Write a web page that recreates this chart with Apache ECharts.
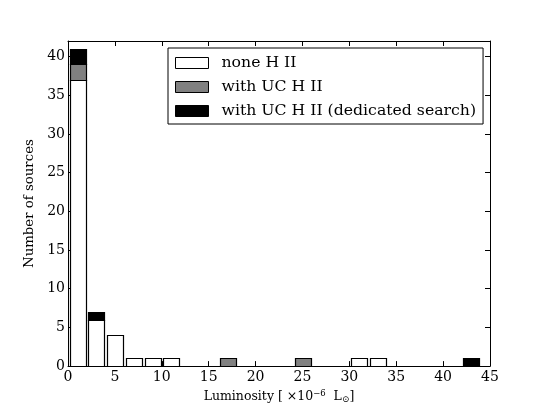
<!DOCTYPE html>
<html>
<head>
<meta charset="utf-8">
<script src="https://cdn.jsdelivr.net/npm/echarts@6/dist/echarts.min.js"></script>
<style>
  html, body { margin: 0; padding: 0; background: #fff; }
  #chart { width: 545px; height: 409px; }
</style>
</head>
<body>
<div id="chart"></div>
<script>
// histogram bins (centre of each 2-unit bin, luminosity x10^-6 Lsun)
var binCenters = [1, 3, 5, 7, 9, 11, 13, 15, 17, 19, 21, 23, 25, 27, 29, 31, 33, 35, 37, 39, 41, 43];
var noneHII    = [37, 6, 4, 1, 1, 1, 0, 0, 0, 0, 0, 0, 0, 0, 0, 1, 1, 0, 0, 0, 0, 0];
var withUC     = [2, 0, 0, 0, 0, 0, 0, 0, 1, 0, 0, 0, 1, 0, 0, 0, 0, 0, 0, 0, 0, 0];
var withUCded  = [2, 1, 0, 0, 0, 0, 0, 0, 0, 0, 0, 0, 0, 0, 0, 0, 0, 0, 0, 0, 0, 1];
var seriesNames = ['none H II', 'with UC H II', 'with UC H II (dedicated search)'];
var seriesColors = ['#ffffff', '#808080', '#000000'];

var font = 'DejaVu Serif';
var barFrac = 1.67; // drawn width of a bar, in x units (bins are 2 wide)

// stacked histogram: each row is [centre, bottom, top]
var stackRows = function (vals, below) {
  return binCenters.map(function (x, i) {
    return [x, below[i], below[i] + vals[i]];
  });
};
var base1 = noneHII.map(function (v) { return v; });
var base2 = noneHII.map(function (v, i) { return v + withUC[i]; });
var zeros = noneHII.map(function () { return 0; });

var makeSeries = function (name, rows, color) {
  return {
    name: name,
    type: 'custom',
    data: rows,
    encode: { x: 0, y: [1, 2] },
    itemStyle: { color: color, borderColor: '#000', borderWidth: 1 },
    renderItem: function (params, api) {
      var x = api.value(0), lo = api.value(1), hi = api.value(2);
      if (hi <= lo) return;
      var p0 = api.coord([x, lo]);
      var p1 = api.coord([x, hi]);
      var w = api.size([barFrac, 0])[0];
      return {
        type: 'rect',
        shape: { x: Math.round(p0[0] - w / 2) + 0.5, y: Math.round(p1[1]) + 0.5, width: Math.round(w), height: Math.round(p0[1]) - Math.round(p1[1]) },
        style: { fill: color, stroke: '#000', lineWidth: 1.2 }
      };
    },
    animation: false
  };
};

var tickStyle = { show: true, inside: true, length: 5, lineStyle: { color: '#000' } };
var lineStyle = { show: true, onZero: false, lineStyle: { color: '#000', width: 1 } };

var chart = echarts.init(document.getElementById('chart'));
chart.setOption({
  animation: false,
  backgroundColor: '#fff',
  textStyle: { fontFamily: font },
  grid: { left: 68, right: 55, top: 41, bottom: 41, containLabel: false },
  legend: {
    orient: 'vertical',
    left: 168,
    top: 48,
    padding: [7, 7, 5, 7],
    itemGap: 8,
    itemWidth: 33,
    itemHeight: 11,
    icon: 'rect',
    borderColor: '#000',
    borderWidth: 1,
    backgroundColor: '#fff',
    data: seriesNames.map(function (n, i) {
      return { name: n, itemStyle: { color: seriesColors[i], borderColor: '#000', borderWidth: 1 } };
    }),
    textStyle: { fontFamily: font, fontSize: 15.7, lineHeight: 16, color: '#000', padding: [0, 0, 0, 8] }
  },
  xAxis: [{
    type: 'value',
    min: 0, max: 45, interval: 5,
    name: 'Luminosity [ ×10{sup|−6}  L{sub|⊙}]',
    nameLocation: 'middle',
    nameGap: 14,
    nameTextStyle: {
      fontFamily: font, fontSize: 12.5, color: '#000', verticalAlign: 'top',
      rich: {
        sup: { fontFamily: font, fontSize: 8.5, verticalAlign: 'top', padding: [0, 0, 6, 0] },
        sub: { fontFamily: font, fontSize: 9, verticalAlign: 'bottom', padding: [5, 0, 0, 0] }
      }
    },
    axisLine: lineStyle,
    axisTick: tickStyle,
    splitLine: { show: false },
    axisLabel: { fontFamily: font, fontSize: 14, color: '#000', margin: 4 }
  }, {
    type: 'value', position: 'top',
    min: 0, max: 45, interval: 5,
    axisLine: lineStyle, axisTick: tickStyle,
    splitLine: { show: false }, axisLabel: { show: false }
  }],
  yAxis: [{
    type: 'value',
    min: 0, max: 42, interval: 5,
    name: 'Number of sources',
    nameLocation: 'middle',
    nameGap: 25,
    nameTextStyle: { fontFamily: font, fontSize: 13.3, color: '#000' },
    axisLine: lineStyle,
    axisTick: tickStyle,
    splitLine: { show: false },
    axisLabel: {
      fontFamily: font, fontSize: 14, color: '#000', margin: 3,
      formatter: function (v) { return v % 5 === 0 ? String(v) : ''; }
    }
  }, {
    type: 'value', position: 'right',
    min: 0, max: 42, interval: 5,
    axisLine: lineStyle, axisTick: tickStyle,
    splitLine: { show: false }, axisLabel: { show: false }
  }],
  series: [
    makeSeries(seriesNames[0], stackRows(noneHII, zeros), seriesColors[0]),
    makeSeries(seriesNames[1], stackRows(withUC, base1), seriesColors[1]),
    makeSeries(seriesNames[2], stackRows(withUCded, base2), seriesColors[2])
  ]
});
</script>
</body>
</html>
